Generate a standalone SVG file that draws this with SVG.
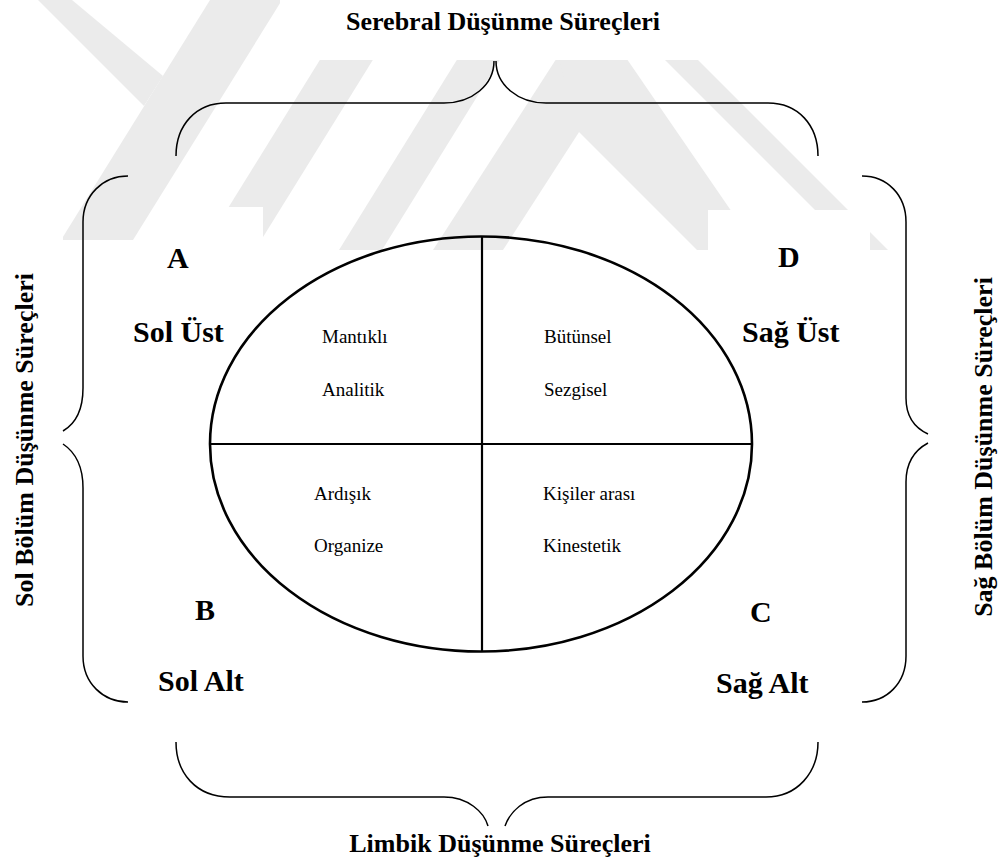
<svg xmlns="http://www.w3.org/2000/svg" width="1005" height="863" viewBox="0 0 1005 863">
  <style>
    .brace { fill: none; stroke: #000; stroke-width: 1.5; }
    .shape { fill: none; stroke: #000; stroke-width: 2.6; }
    .divider { stroke: #000; stroke-width: 2.2; }
    .head { font-family: "Liberation Serif", "Times New Roman", serif; font-weight: bold; font-size: 26px; fill: #000; }
    .corner { font-family: "Liberation Serif", "Times New Roman", serif; font-weight: bold; font-size: 30px; fill: #000; }
    .item { font-family: "Liberation Serif", "Times New Roman", serif; font-size: 19px; fill: #000; }
    .mark { fill: #ebebeb; }
  </style>
  <defs>
    <clipPath id="markArea">
      <rect x="0" y="0" width="1005" height="250"/>
    </clipPath>
  </defs>

  <rect x="0" y="0" width="1005" height="863" fill="#fff"/>

  <!-- faint background emblem -->
  <g id="background-mark" clip-path="url(#markArea)">
    <polygon class="mark" points="210,0 282,0 133,240 61,240"/>
    <polygon class="mark" points="38,0 72,0 163,76 144,106"/>
    <polygon class="mark" points="357,0 410,0 255,250 202,250"/>
    <polygon class="mark" points="494,0 537,0 382,250 339,250"/>
    <polygon class="mark" points="620,-40 690,-40 503,250 433,250"/>
    <polygon class="mark" points="557,49 620,49 758,250 697,250 577,130"/>
    <polygon class="mark" points="605,0 638,0 888,250 855,250"/>
    <!-- text boxes sitting over the emblem -->
    <rect x="280" y="0" width="725" height="60" fill="#fff"/>
    <rect x="173" y="207" width="90" height="60" fill="#fff"/>
    <rect x="708" y="210" width="162" height="60" fill="#fff"/>
    <rect x="0" y="170" width="63" height="100" fill="#fff"/>
  </g>

  <!-- braces -->
  <g id="connectors">
    <path class="brace" d="M176,156 C176,125 196,103 226,103 L444,103 C472,103 494,85 494,61"/>
    <path class="brace" d="M496,61 C496,85 518,103 546,103 L768,103 C798,103 818,125 818,156"/>
    <path class="brace" d="M176,742 C176,773 196,797 230,797 L444,797 C468,797 484,812 488,826"/>
    <path class="brace" d="M505,826 C510,812 524,797 548,797 L766,797 C797,797 818,773 818,742"/>
    <path class="brace" d="M128,176 C103,176 83,195 83,222 L83,388 C83,410 75,424 63,431"/>
    <path class="brace" d="M63,444 C75,452 83,466 83,488 L83,656 C83,683 103,702 128,702"/>
    <path class="brace" d="M862,176 C887,176 906,195 906,222 L906,398 C906,416 915,428 928,434"/>
    <path class="brace" d="M928,443 C915,450 906,462 906,482 L906,656 C906,683 887,702 862,702"/>
  </g>

  <!-- side headings -->
  <g id="top-heading"><text class="head" x="503" y="30" text-anchor="middle">Serebral Düşünme Süreçleri</text></g>
  <g id="bottom-heading"><text class="head" x="500" y="852" text-anchor="middle">Limbik Düşünme Süreçleri</text></g>
  <g id="left-heading"><text class="head" transform="translate(33,440) rotate(-90)" text-anchor="middle">Sol Bölüm Düşünme Süreçleri</text></g>
  <g id="right-heading"><text class="head" transform="translate(992,447) rotate(-90)" text-anchor="middle">Sağ Bölüm Düşünme Süreçleri</text></g>

  <!-- quadrant corner labels -->
  <g id="label-a"><text class="corner" x="167" y="268">A</text><text class="corner" x="133" y="342">Sol Üst</text></g>
  <g id="label-d"><text class="corner" x="778" y="267">D</text><text class="corner" x="742" y="342">Sağ Üst</text></g>
  <g id="label-b"><text class="corner" x="195" y="620">B</text><text class="corner" x="158" y="691">Sol Alt</text></g>
  <g id="label-c"><text class="corner" x="750" y="622">C</text><text class="corner" x="716" y="693">Sağ Alt</text></g>

  <!-- brain model -->
  <g id="brain">
    <ellipse class="shape" cx="481" cy="444" rx="271" ry="207.5"/>
    <line class="divider" x1="210" y1="444" x2="752" y2="444"/>
    <line class="divider" x1="482" y1="236.5" x2="482" y2="651.5"/>
  </g>

  <g id="quadrant-a"><text class="item" x="322" y="343">Mantıklı</text><text class="item" x="322" y="396">Analitik</text></g>
  <g id="quadrant-d"><text class="item" x="544" y="343">Bütünsel</text><text class="item" x="544" y="396">Sezgisel</text></g>
  <g id="quadrant-b"><text class="item" x="314" y="500">Ardışık</text><text class="item" x="314" y="552">Organize</text></g>
  <g id="quadrant-c"><text class="item" x="543" y="500">Kişiler arası</text><text class="item" x="543" y="552">Kinestetik</text></g>
</svg>
